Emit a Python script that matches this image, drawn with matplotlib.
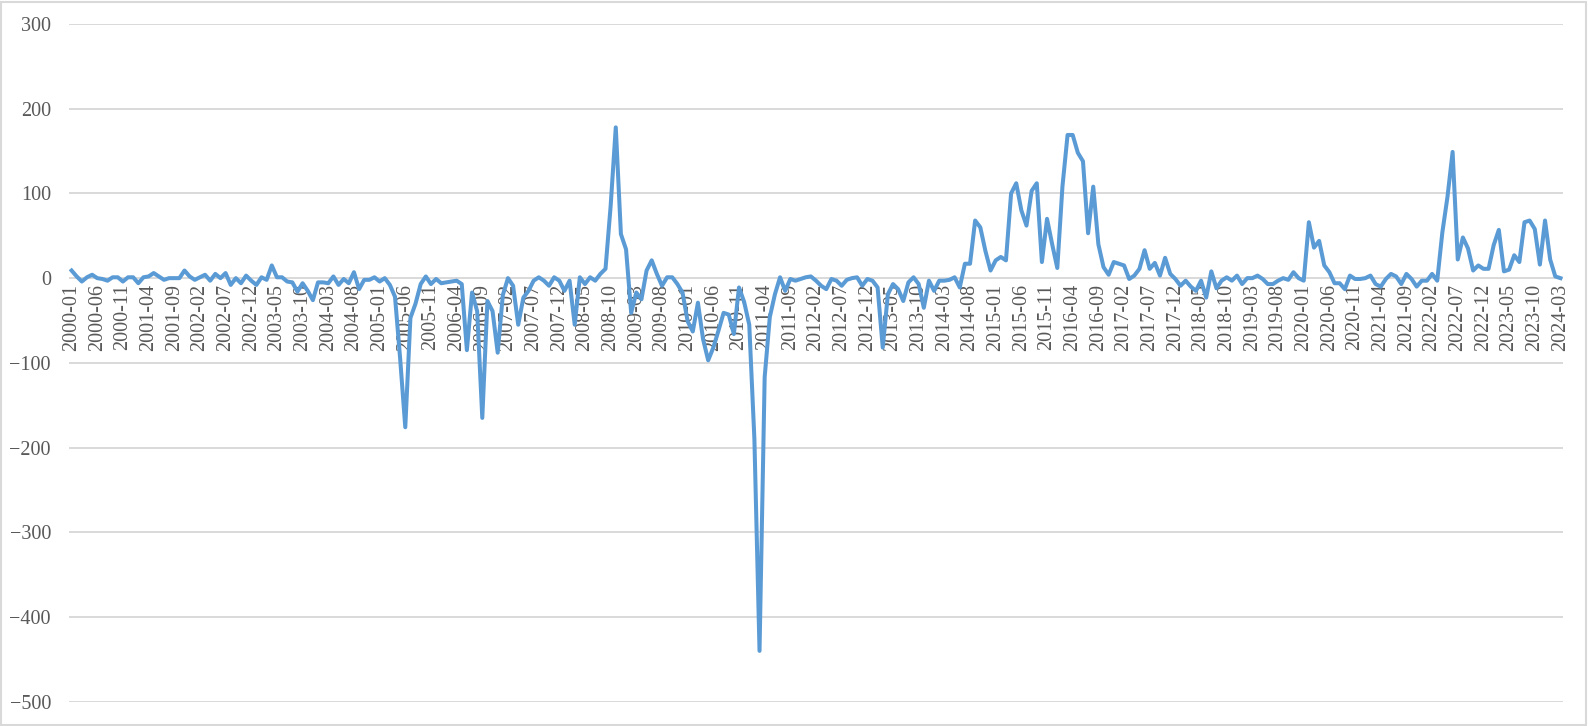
import numpy as np
import pandas as pd
import matplotlib
matplotlib.use("Agg")
import matplotlib.pyplot as plt

# monthly values, 2000-01 .. 2024-03
months = pd.date_range("2000-01", "2024-03", freq="MS").strftime("%Y-%m").tolist()

v2000 = [9, 2, -4, 1, 4, 0, -1, -3, 1, 1, -4, 1]
v2001 = [1, -6, 1, 2, 6, 2, -2, 0, 0, 0, 9, 2]
v2002 = [-2, 1, 4, -3, 5, 0, 6, -8, 0, -6, 3, -3]
v2003 = [-8, 1, -2, 15, 1, 1, -4, -5, -16, -6, -15, -26]
v2004 = [-5, -5, -6, 2, -8, -1, -6, 7, -13, -2, -2, 1]
v2005 = [-4, 0, -8, -22, -95, -176, -47, -30, -7, 2, -7, -1]
v2006 = [-6, -5, -4, -3, -7, -85, -17, -39, -165, -27, -39, -88]
v2007 = [-20, 0, -9, -55, -23, -15, -3, 1, -3, -9, 1, -3]
v2008 = [-15, -3, -55, 1, -7, 1, -3, 5, 11, 85, 178, 52]
v2009 = [34, -41, -17, -25, 9, 21, 5, -9, 1, 1, -7, -17]
v2010 = [-51, -63, -29, -72, -97, -82, -62, -41, -43, -66, -11, -28]
v2011 = [-55, -190, -440, -117, -46, -19, 1, -15, -1, -3, -1, 1]
v2012 = [2, -3, -9, -13, -1, -3, -9, -2, 0, 1, -9, -1]
v2013 = [-3, -11, -82, -19, -7, -13, -27, -5, 1, -7, -35, -3]
v2014 = [-15, -3, -3, -2, 1, -11, 17, 17, 68, 60, 32, 9]
v2015 = [21, 25, 21, 100, 112, 80, 62, 103, 112, 19, 70, 40]
v2016 = [12, 108, 169, 169, 148, 138, 53, 108, 40, 13, 4, 19]
v2017 = [17, 15, -1, 3, 11, 33, 11, 18, 3, 24, 5, -1]
v2018 = [-9, -3, -10, -15, -3, -23, 8, -12, -3, 1, -3, 3]
v2019 = [-7, 0, 0, 3, -1, -7, -7, -3, 0, -2, 7, 0]
v2020 = [-3, 66, 36, 44, 15, 7, -6, -6, -13, 3, -1, -1]
v2021 = [0, 3, -7, -10, -1, 5, 2, -7, 5, -1, -10, -3]
v2022 = [-3, 5, -3, 54, 96, 149, 22, 48, 35, 9, 15, 11]
v2023 = [11, 39, 57, 8, 10, 27, 19, 66, 68, 58, 16, 68]
v2024 = [22, 2, 0]

values = (v2000 + v2001 + v2002 + v2003 + v2004 + v2005 + v2006 + v2007 +
          v2008 + v2009 + v2010 + v2011 + v2012 + v2013 + v2014 + v2015 +
          v2016 + v2017 + v2018 + v2019 + v2020 + v2021 + v2022 + v2023 + v2024)

yticks = [-500, -400, -300, -200, -100, 0, 100, 200, 300]

plt.rcParams['font.family'] = ['Liberation Serif', 'DejaVu Serif']

fig = plt.figure(figsize=(15.88, 7.26), dpi=100)
ax = fig.add_axes([69/1588, (726-701.7)/726, (1563-69)/1588, (701.7-24)/726])

x = np.arange(len(values))
ax.plot(x, values, color='#5b9bd5', lw=2.9, zorder=3, solid_joinstyle='round')

ax.set_xlim(-0.5, len(values) - 0.5)
ax.set_ylim(-500, 300)
ax.set_yticks(yticks)
ax.yaxis.grid(True, color='#d9d9d9', lw=1.4, zorder=0)
ax.set_axisbelow(True)

for s in ax.spines.values():
    s.set_visible(False)
ax.spines['bottom'].set_position(('data', 0))

ax.set_xticks(x[::5])
ax.set_xticklabels(months[::5], rotation=90, ha='center', va='top')
ax.tick_params(axis='x', length=0, pad=4, labelsize=14.5, colors='#595959')
ax.tick_params(axis='y', length=0, pad=13, labelsize=14.5, colors='#595959')

fig.add_artist(plt.Rectangle((0.6/1588, 1.2/726), 1585.5/1588, 723.3/726,
                             transform=fig.transFigure, fill=False,
                             ec='#d9d9d9', lw=1.5))

fig.savefig('out.png', dpi=100)
